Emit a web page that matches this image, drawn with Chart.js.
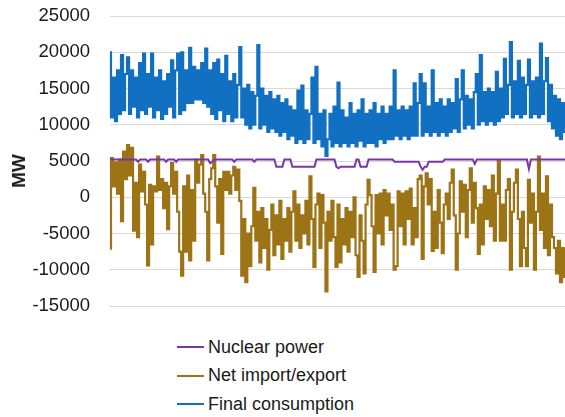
<!DOCTYPE html>
<html>
<head>
<meta charset="utf-8">
<script src="https://cdn.jsdelivr.net/npm/chart.js@4.4.1/dist/chart.umd.min.js"></script>
<style>
    html, body { margin: 0; padding: 0; background: #ffffff; }
    #wrap { position: relative; width: 565px; height: 417px; overflow: hidden; font-family: "Liberation Sans", Arial, sans-serif; }
    #power-chart { position: absolute; left: 0; top: 0; }
    .y-title { position: absolute; left: 19px; top: 171px; transform: translate(-50%, -50%) rotate(-90deg); font-weight: bold; font-size: 19px; color: #1a1a1a; white-space: nowrap; }
    .legend { position: absolute; left: 177px; top: 333px; }
    .legend-row { height: 28.5px; display: flex; align-items: center; font-size: 18px; color: #1a1a1a; }
    .legend-row span.swatch { display: inline-block; width: 27px; height: 2px; margin-right: 4px; }
</style>
</head>
<body>
<div id="wrap">
    <canvas id="power-chart" width="565" height="320"></canvas>
    <div class="y-title">MW</div>
    <div class="legend" id="legend"></div>
</div>
<script>
// values, one point every ~2 px from left to right
const consumption = [
    20000, 11000, 16500, 10500, 17500, 11500, 19600, 12000, 17000, 19300,
    11500, 17500, 12500, 16500, 11000, 18500, 12000, 19800, 11500, 17000,
    12500, 19800, 11000, 16500, 12000, 17500, 10800, 16000, 11500, 17000,
    12500, 18900, 11000, 17500, 19800, 11500, 20000, 12000, 17500, 13000,
    20600, 13000, 18000, 13500, 17500, 13500, 18500, 13000, 20500, 12500,
    17500, 11500, 18500, 10800, 19000, 12000, 17000, 10500, 19500, 11500,
    16000, 10500, 17000, 11000, 15500, 20700, 11000, 15000, 10000, 15500,
    9500, 14500, 10000, 14000, 21000, 9500, 15000, 10000, 14000, 9000,
    14500, 9500, 13500, 9000, 14000, 8500, 13000, 9000, 13500, 8000,
    12500, 8500, 12000, 7500, 14700, 8000, 15400, 7500, 12000, 8000,
    11500, 16500, 7500, 18000, 8000, 11500, 7000, 12000, 5700, 8000,
    11500, 7000, 12500, 7500, 15800, 7000, 12000, 7500, 11000, 7000,
    13000, 7500, 11500, 7000, 12000, 7800, 13500, 7000, 11500, 7500,
    12000, 7500, 13000, 7000, 11500, 8000, 12500, 7500, 11500, 8000,
    12500, 8000, 17500, 8500, 12000, 8000, 12500, 8500, 12000, 8000,
    12500, 8500, 15700, 8500, 13000, 17000, 8500, 15700, 9000, 12500,
    8500, 17500, 9000, 13000, 8500, 13500, 9000, 12500, 8500, 13500,
    9000, 13000, 9500, 16300, 9000, 13500, 17500, 9500, 14000, 10000,
    13500, 9500, 14500, 17000, 10000, 19600, 10500, 14500, 10000, 15000,
    10500, 14500, 10000, 17300, 10500, 15000, 11000, 19100, 11500, 15500,
    21400, 11000, 16000, 11500, 18800, 11000, 16500, 11500, 15500, 19000,
    11000, 16000, 11500, 16500, 11000, 21200, 11500, 16000, 19200, 10500,
    15500, 9500, 14000, 8500, 13500, 8000, 13000, 9000
];

const nuclear = [
    5200, 5200, 5200, 5200, 5200, 5200, 5200, 5200, 5200, 5200,
    5200, 5200, 5200, 5200, 4900, 5200, 5200, 5200, 5200, 4900,
    5200, 5200, 5200, 5200, 5200, 5200, 5200, 5200, 4900, 5200,
    5200, 5200, 5200, 4900, 5200, 5200, 5200, 5200, 5200, 5200,
    5200, 5200, 5200, 5200, 5200, 5200, 5200, 5200, 5200, 5200,
    4700, 4900, 5200, 5200, 5200, 5200, 5200, 5200, 5200, 5200,
    5200, 5200, 4900, 5200, 5200, 5200, 5200, 5200, 5200, 5200,
    5200, 5200, 4900, 5200, 5200, 5200, 5200, 5200, 5200, 5200,
    5200, 5200, 5200, 4200, 4200, 4200, 4200, 5200, 5200, 5200,
    5200, 4200, 4200, 4200, 4200, 4200, 4200, 4200, 4200, 4200,
    4200, 4200, 4200, 5200, 5200, 5200, 5200, 5200, 5200, 5200,
    5200, 5200, 5200, 4200, 4000, 4200, 4200, 4200, 4200, 4200,
    4200, 4200, 4200, 5200, 5200, 4200, 4200, 4200, 4200, 5200,
    5200, 5200, 5200, 5200, 5200, 5200, 5200, 5200, 5200, 5200,
    5200, 5200, 4900, 4900, 4900, 4900, 4900, 4900, 4900, 4900,
    4900, 4900, 4900, 4900, 4900, 4200, 3800, 4200, 4200, 4900,
    4900, 4900, 4900, 4900, 4900, 4900, 4900, 5200, 5200, 5200,
    5200, 5200, 5200, 5200, 5200, 5200, 5200, 5200, 5200, 5200,
    5200, 5200, 4600, 5200, 5200, 5200, 5200, 5200, 5200, 5200,
    5200, 5200, 5200, 5200, 5200, 5200, 5200, 5200, 5200, 5200,
    5200, 5200, 5200, 5200, 5200, 5200, 5200, 5200, 5200, 3900,
    5200, 5200, 5200, 5200, 5200, 5200, 5200, 5200, 5200, 5200,
    5200, 5200, 5200, 5200, 5200, 5200, 5200, 5200
];

const netImportExport = [
    -7100, 5400, 1500, 4800, 500, 5200, -3300, 6300, 2500, 7200,
    3000, 6800, -4600, 2000, -5500, 4500, 800, 3500, -1000, -9400,
    1700, -6500, 1500, 800, 5600, 1000, 2500, -1500, 2000, -4400,
    1500, 4700, 500, 3500, -2000, -7500, -10800, 1500, -7500, 3000,
    -8700, 1000, -6000, 5200, 2000, 4500, 5800, 500, -2000, -8700,
    2500, 4000, 5800, 1500, -3500, 2500, -7800, 3500, 1000, 3500,
    500, 3000, 4200, 1000, 3800, -500, -10800, -3000, -11700, -5000,
    -9500, -4000, 1300, -6000, -2000, -9000, -1500, -7000, -3000, -10000,
    -4500, -1000, -8000, -2500, -6500, -500, -8500, -3000, -6000, -1500,
    -7500, -2000, 800, -6000, -1000, -7000, -2500, -5000, -500, -6500,
    2900, -3000, -9600, -1000, 500, -7000, 300, -3500, -13000, -2000,
    -6000, -500, -5500, -9600, -1000, -9000, -3000, -6500, -1500, -7500,
    -2000, -5500, 0, -8000, -11000, -2500, -6000, -10500, -1000, 2400,
    300, -4000, -10300, 300, -5000, 500, -6500, 1000, -2500, 500,
    -4500, -1000, -10000, -9500, 800, -4000, 500, -6500, 800, -3000,
    1200, -6500, -1500, -5500, 2500, 3000, -8500, 1500, 3300, -1000,
    2500, -7400, -2000, -7000, 1000, -3500, -7700, -1000, 500, -3000,
    2000, 3800, -2500, -10000, -5000, 2200, -2000, 1700, -5500, 1000,
    4000, -3500, 2000, -1500, -7800, -1000, -6500, 1500, -3000, 1000,
    -4000, 3000, -6000, 500, 5100, -6000, -1000, -6000, 1000, 2500,
    -10000, -2000, 2000, 3800, -3000, -9500, -2000, -7000, -9500, 2400,
    -3500, 500, -10000, -2000, 5600, -4500, 500, -7000, 2900, -8000,
    -1000, -5500, -7000, -10500, -6000, -11700, -7000, -11000
];

const yTicks = [25000, 20000, 15000, 10000, 5000, 0, -5000, -10000, -15000];

// no date labels are shown on the x axis, so periods are just counted
const periods = consumption.map(function (v, i) { return i + 1; });

const seriesNames = ['Nuclear power', 'Net import/export', 'Final consumption'];
const seriesColors = ['#7a35a6', '#9c7315', '#1170c1'];

function makeDataset(index, values, width, stepped) {
    return {
        label: seriesNames[index],
        data: values,
        borderColor: seriesColors[index],
        backgroundColor: seriesColors[index],
        borderWidth: width,
        stepped: stepped,
        pointRadius: 0,
        tension: 0,
        fill: false
    };
}

function buildLegend(chart) {
    let $legend = document.getElementById('legend');
    chart.data.datasets.forEach(function (ds) {
        let row = document.createElement('div');
        row.className = 'legend-row';
        row.innerHTML = '<span class="swatch" style="background:' + ds.borderColor + '"></span>' + ds.label;
        $legend.appendChild(row);
    });
}

const ctx = document.getElementById('power-chart').getContext('2d');
const powerChart = new Chart(ctx, {
    type: 'line',
    data: {
        labels: periods,
        datasets: [
            makeDataset(0, nuclear, 2, false),
            makeDataset(1, netImportExport, 2.2, 'middle'),
            makeDataset(2, consumption, 2.2, 'middle')
        ]
    },
    options: {
        responsive: false,
        animation: false,
        devicePixelRatio: 1,
        // plot runs from y=16 (25000) to y=306 (-15000)
        layout: { padding: { top: 16, right: 0, bottom: 14, left: 0 } },
        plugins: {
            legend: { display: false },
            tooltip: { enabled: false }
        },
        scales: {
            x: { display: false },
            y: {
                min: -15000,
                max: 25000,
                afterFit: function (scale) {
                    scale.width = 110;
                    scale.paddingTop = 0;
                    scale.paddingBottom = 0;
                },
                afterBuildTicks: function (scale) {
                    scale.ticks = yTicks.map(function (v) { return { value: v }; });
                },
                border: { display: false },
                grid: { color: '#d9d9d9', lineWidth: 1, drawTicks: false },
                ticks: {
                    padding: 20,
                    color: '#1a1a1a',
                    font: { family: '"Liberation Sans", Arial, sans-serif', size: 18.5 },
                    callback: function (value) { return String(value); }
                }
            }
        }
    }
});

buildLegend(powerChart);
</script>
</body>
</html>
